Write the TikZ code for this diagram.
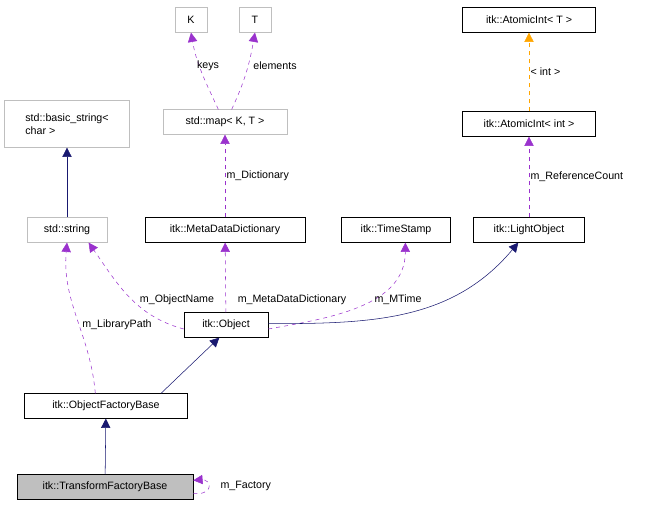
\documentclass[tikz,border=0pt]{standalone}
\usepackage{fontspec}
\setmainfont{Liberation Sans}
\usetikzlibrary{positioning, arrows.meta}
\definecolor{usecolor}{HTML}{9A32CD}
\definecolor{inhcolor}{HTML}{191970}
\definecolor{tplcolor}{HTML}{FFA500}
\definecolor{extgray}{HTML}{BFBFBF}
\tikzset{
  cls/.style={draw=black, fill=white, inner sep=0pt, minimum height=18.5pt, font=\fontsize{8}{9.5}\selectfont},
  ext/.style={cls, draw=extgray},
  inherit/.style={-{Triangle[length=7pt,width=7pt]}, inhcolor, thin},
  uses/.style={-{Triangle[length=7pt,width=7pt]}, usecolor, dashed, thin},
  tmpl/.style={-{Triangle[length=7pt,width=7pt]}, tplcolor, dashed, thin},
  lab/.style={font=\fontsize{8}{9.5}\selectfont, inner sep=1pt, text=black}
}
\begin{document}
\begin{tikzpicture}[x=0.75pt, y=-0.75pt]
  \useasboundingbox (0,0) rectangle (652,507);
  % Classes
  \node[ext, minimum width=24pt] (k) at (191,20) {K};
  \node[ext, minimum width=24pt] (t) at (255,20) {T};
  \node[ext, minimum width=93pt] (map) at (225,122) {std::map< K, T >};
  \node[cls, minimum width=100pt] (atomt) at (529,20) {itk::AtomicInt< T >};
  \node[cls, minimum width=100pt] (atomi) at (529,124) {itk::AtomicInt< int >};
  \node[ext, minimum width=94pt, minimum height=35pt, align=left] (bstr) at (67,124) {std::basic\_string<\\char >};
  \node[ext, minimum width=60pt] (str) at (67,230) {std::string};
  \node[cls, minimum width=120pt] (mdd) at (225,230) {itk::MetaDataDictionary};
  \node[cls, minimum width=82pt] (ts) at (396,230) {itk::TimeStamp};
  \node[cls, minimum width=83pt] (light) at (529,230) {itk::LightObject};
  \node[cls, minimum width=63pt] (obj) at (226,325) {itk::Object};
  \node[cls, minimum width=122pt] (ofb) at (106,406) {itk::ObjectFactoryBase};
  \node[cls, minimum width=132pt, fill=extgray] (tfb) at (105,487) {itk::TransformFactoryBase};
  % Template parameters
  \draw[uses] ([xshift=-5pt]map.north) to[out=115, in=-80] (k.south);
  \draw[uses] ([xshift=5pt]map.north) to[out=65, in=-100] (t.south);
  \node[lab] (keyslab) at (208,66) {keys};
  \node[lab] (elemlab) at (275,66) {elements};
  \draw[uses] (mdd) -- node[lab, right] {m\_Dictionary} (map);
  \draw[tmpl] (atomi) -- node[lab, right] {< int >} (atomt);
  \draw[uses] (light) -- node[lab, right] {m\_ReferenceCount} (atomi);
  % Inheritance and members
  \draw[inherit] (str) -- (bstr);
  \draw[uses] ([yshift=-3pt]obj.west) to[out=165, in=-55] ([xshift=-14pt]str.south east);
  \node[lab] (namelab) at (177,300) {m\_ObjectName};
  \draw[uses] (obj) -- (mdd);
  \node[lab] (mddlab) at (292,300) {m\_MetaDataDictionary};
  \draw[uses] ([yshift=-3pt]obj.east) to[out=10, in=-90] ([xshift=7pt]ts.south);
  \node[lab] (mtimelab) at (398,300) {m\_MTime};
  \draw[inherit] ([yshift=1pt]obj.east) to[out=0, in=-130] ([xshift=-8pt]light.south);
  \draw[uses] ([xshift=-8pt]ofb.north) to[out=95, in=-95] (str.south);
  \node[lab] (libpathlab) at (117,325) {m\_LibraryPath};
  \draw[inherit] ([xshift=-20pt]ofb.north east) -- ([xshift=-5pt]obj.south);
  \draw[inherit] (tfb) -- (ofb);
  \draw[uses] ([yshift=-5pt]tfb.east) to[out=-5, in=-90] ++(16,-8) to[out=90, in=5] ([yshift=5pt]tfb.east);
  \node[lab, anchor=west] (selflab) at (219,486) {m\_Factory};
\end{tikzpicture}
\end{document}
